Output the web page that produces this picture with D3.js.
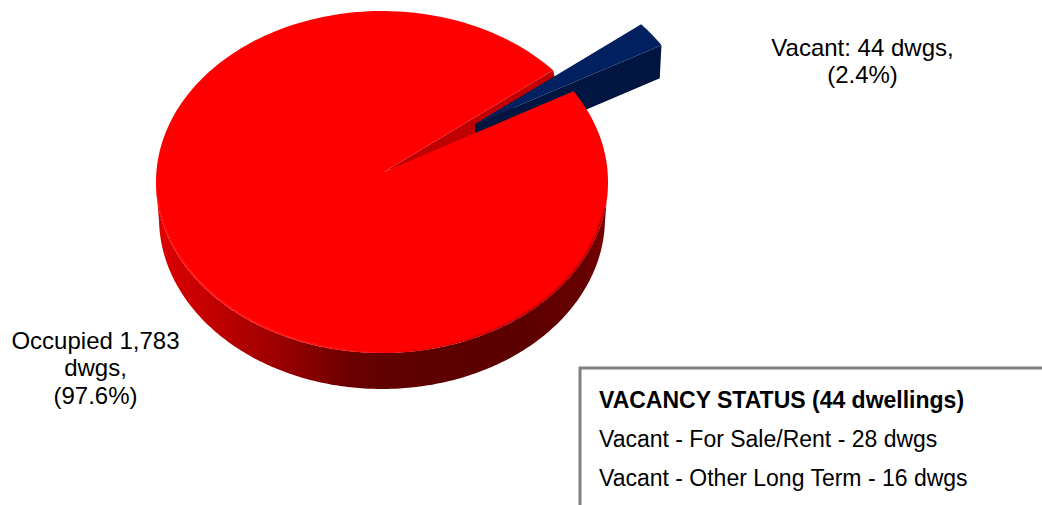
<!DOCTYPE html>
<html><head><meta charset="utf-8">
<script src="https://cdn.jsdelivr.net/npm/d3@7/dist/d3.min.js"></script>
<style>html,body{margin:0;padding:0;background:#fff}svg{display:block}text{font-family:"Liberation Sans",Arial,sans-serif;fill:#000}</style>
</head><body><svg id="c" width="1042" height="505"></svg>
<script>
const categories = ["Occupied", "Vacant"];
const dwellings = [1783, 44];
const occupiedLabel = ["Occupied 1,783", "dwgs,", "(97.6%)"];
const vacantLabel = ["Vacant: 44 dwgs,", "(2.4%)"];
const boxTitle = "VACANCY STATUS (44 dwellings)";
const boxLines = ["Vacant - For Sale/Rent - 28 dwgs", "Vacant - Other Long Term - 16 dwgs"];

const svg = d3.select("#c");
const defs = svg.append("defs");

const cx = 382, cy = 182, rx = 226, ry = 171;
const apex = [384, 172];
const depth = 36, rxLow = 223;
const explode = [88, -46], blueApex = [475, 124], blueDepth = 33;
const toDeg = 180 / Math.PI;
const pt = (a, R = rx, oy = 0) => [cx + R * Math.sin(a), cy + oy - ry * Math.cos(a)];

const pie = d3.pie().sort(null).value(d => d).startAngle(57.9 / toDeg).endAngle((57.9 + 360) / toDeg);
const [occ, vac] = pie(dwellings);
const arcPts = (a0, a1, R = rx, oy = 0, n = 240) => d3.range(n + 1).map(i => pt(a0 + (a1 - a0) * i / n, R, oy));
const line = d3.line();

const side = defs.append("linearGradient").attr("id", "side").attr("gradientUnits", "userSpaceOnUse")
  .attr("x1", cx - rx).attr("x2", cx + rx).attr("y1", 0).attr("y2", 0);
[[0, "#dc0000"], [.1, "#c80000"], [.25, "#a00000"], [.42, "#6e0000"], [.5, "#600000"], [.8, "#5c0000"], [.95, "#660000"], [1, "#7a0000"]]
  .forEach(([o, c]) => side.append("stop").attr("offset", o).attr("stop-color", c));
const rim = defs.append("linearGradient").attr("id", "rim").attr("gradientUnits", "userSpaceOnUse")
  .attr("x1", cx - rx).attr("x2", cx + rx).attr("y1", 0).attr("y2", 0);
[[0, "#ff1010"], [.08, "#ff3030"], [.35, "#ff2020"], [.55, "#f00000"], [.8, "#a00000"], [1, "#900000"]]
  .forEach(([o, c]) => rim.append("stop").attr("offset", o).attr("stop-color", c));
defs.append("filter").attr("id", "soft").append("feGaussianBlur").attr("stdDeviation", 1.2);

// Occupied: side wall
const sideTop = arcPts(Math.PI / 2 + .02, 3 * Math.PI / 2 - .02, rx, 0);
const sideLow = arcPts(Math.PI / 2 + .02, 3 * Math.PI / 2 - .02, rxLow, depth);
svg.append("path").attr("d", line([...sideTop, ...sideLow.reverse()]) + "Z").attr("fill", "url(#side)");

// Occupied: cut wall seen through the gap
const cutA = pt(vac.startAngle);
const wallA = [cutA[0] + 1.5, cutA[1] + 7];
svg.append("path").attr("d", line([apex, cutA, wallA, [blueApex[0], blueApex[1] + 12]]) + "Z").attr("fill", "#c00000");

// Vacant exploded wedge
const vacTop = arcPts(vac.startAngle, vac.endAngle, rx, 0, 12).map(([x, y]) => [x + explode[0], y + explode[1]]);
const vacOuter = vacTop[vacTop.length - 1];
const vacLow = arcPts(vac.startAngle, vac.endAngle, rx - 2, blueDepth, 12).map(([x, y]) => [x + explode[0], y + explode[1]]);
svg.append("path").attr("d", line([blueApex, vacOuter, vacLow[vacLow.length - 1], [blueApex[0], blueApex[1] + blueDepth]]) + "Z").attr("fill", "#00153f");
svg.append("path").attr("d", line([blueApex, ...vacTop]) + "Z").attr("fill", "#002060");

// Occupied: top face
const occTop = line([apex, ...arcPts(occ.startAngle, occ.endAngle)]) + "Z";
defs.append("clipPath").attr("id", "topClip").append("path").attr("d", occTop);
svg.append("path").attr("d", occTop).attr("fill", "#ff0000");
// Soft bevel only along the front half of the rim
svg.append("g").attr("clip-path", "url(#topClip)").append("path")
  .attr("d", line(arcPts(Math.PI * 0.55, Math.PI * 1.48)))
  .attr("fill", "none").attr("stroke", "url(#rim)").attr("stroke-width", 2.4).attr("filter", "url(#soft)");

const put = (t, x, y, fs, anchor, weight) => svg.append("text")
  .attr("x", x).attr("y", y)
  .attr("text-anchor", anchor).attr("font-size", fs).attr("font-weight", weight).text(t);
vacantLabel.forEach((t, i) => put(t, 862.5, 55.5 + i * 27.5, 24, "middle", "normal"));
occupiedLabel.forEach((t, i) => put(t, 95.5, 348.5 + i * 27.5, 24, "middle", "normal"));

svg.append("path").attr("d", "M580 505V368H1042").attr("fill", "none").attr("stroke", "#808080").attr("stroke-width", 3);
put(boxTitle, 599, 408, 23, "start", "bold");
boxLines.forEach((t, i) => put(t, 599, 447 + i * 38.5, 23, "start", "normal"));
</script></body></html>
